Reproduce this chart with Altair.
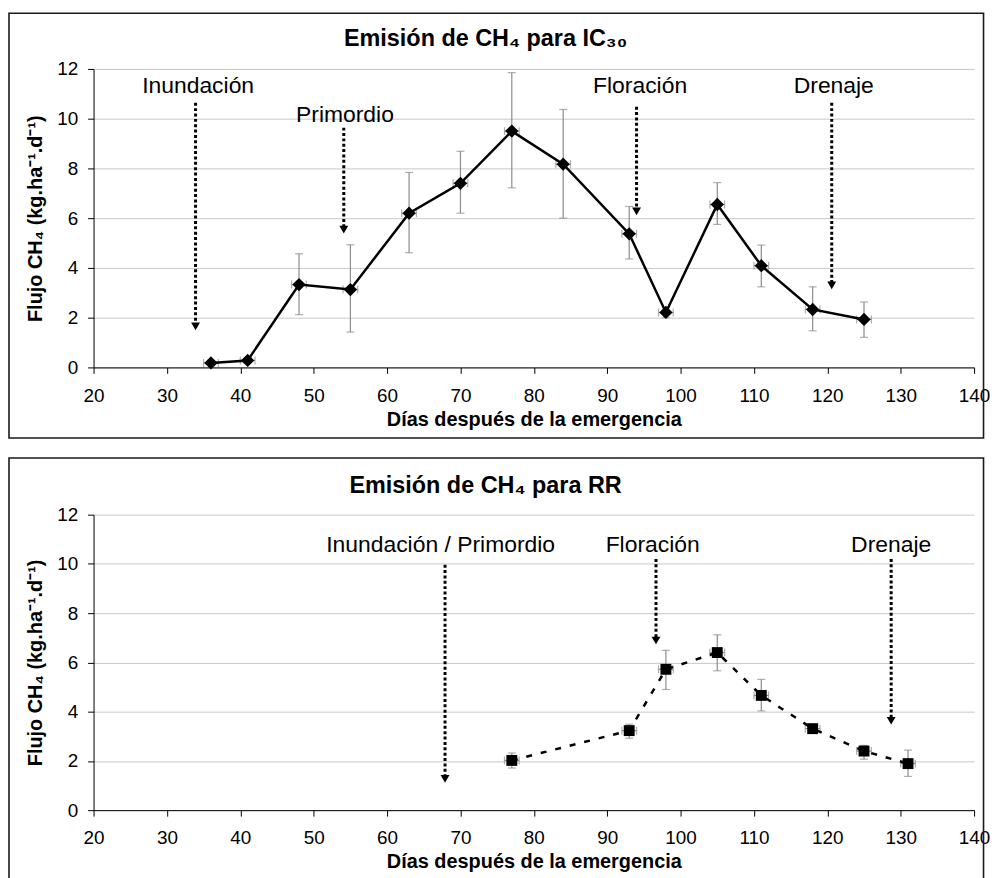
import altair as alt
import pandas as pd

# ---------------- data ----------------
ic_dias = [36, 41, 48, 55, 63, 70, 77, 84, 93, 98, 105, 111, 118, 125]
ic_flujo = [0.18, 0.28, 3.33, 3.13, 6.2, 7.4, 9.5, 8.17, 5.37, 2.21, 6.55, 4.09, 2.33, 1.93]
ic_min = [0.08, 0.18, 2.12, 1.42, 4.61, 6.2, 7.22, 6.0, 4.36, 2.0, 5.75, 3.24, 1.47, 1.21]
ic_max = [0.28, 0.38, 4.57, 4.93, 7.84, 8.69, 11.85, 10.37, 6.47, 2.42, 7.43, 4.92, 3.24, 2.63]
ic_xerr = [1, 1, 1, 1, 1, 1, 1, 1, 1, 1, 1, 1, 1, 1]

rr_dias = [77, 93, 98, 105, 111, 118, 125, 131]
rr_flujo = [2.02, 3.23, 5.72, 6.4, 4.66, 3.31, 2.40, 1.89]
rr_min = [1.71, 2.92, 4.9, 5.66, 4.03, 3.2, 2.07, 1.37]
rr_max = [2.32, 3.49, 6.49, 7.12, 5.31, 3.42, 2.63, 2.44]
rr_xerr = [1, 1, 1, 1, 1, 1, 1, 1]

# annotations (label, label x, label y, arrow x, arrow top, arrow tip)
ic_labels = ["Inundación", "Primordio", "Floración", "Drenaje"]
ic_label_x = [34.25, 54.26, 94.48, 120.88]
ic_label_y = [11.32, 10.16, 11.32, 11.32]
ic_arrow_x = [33.9, 54.1, 94.0, 120.6]
ic_arrow_top = [10.64, 9.64, 10.48, 10.64]
ic_arrow_tip = [1.48, 5.37, 6.1, 3.13]

rr_labels = ["Inundación / Primordio", "Floración", "Drenaje"]
rr_label_x = [67.3, 96.2, 128.7]
rr_label_y = [10.78, 10.78, 10.78]
rr_arrow_x = [67.9, 96.65, 128.7]
rr_arrow_top = [9.97, 10.2, 10.2]
rr_arrow_tip = [1.1, 6.72, 3.46]

x_ticks = [20, 30, 40, 50, 60, 70, 80, 90, 100, 110, 120, 130, 140]
y_ticks = [0, 2, 4, 6, 8, 10, 12]

titles = ["Emisión de CH\u2084 para IC\u2083\u2080", "Emisión de CH\u2084 para RR"]
x_title = "Días después de la emergencia"
y_title = "Flujo CH\u2084 (kg.ha\u207b\u00b9.d\u207b\u00b9)"

FONT = "Liberation Sans"
W = 885
ERR = "#8c8c8c"


def panel(dias, flujo, lo, hi, xerr, labels, lx, ly, ax, atop, atip,
          title, height, shape, size, dash, title_dy, frame_top, frame_bottom,
          xtitle_pad):
    df = pd.DataFrame({"d": dias, "f": flujo, "lo": lo, "hi": hi, "xe": xerr})
    df["xl"] = df["d"] - df["xe"]
    df["xh"] = df["d"] + df["xe"]
    ann = pd.DataFrame({"t": labels, "lx": lx, "ly": ly, "ax": ax,
                        "atop": atop, "atip": atip})
    ann["head"] = ann["atip"] + 0.17
    ann["rend"] = ann["atip"] + 0.3

    xs = alt.Scale(domain=[20, 140], nice=False, zero=False)
    ys = alt.Scale(domain=[0, 12], nice=False)
    xaxis = alt.Axis(values=x_ticks, title=x_title, grid=False, domainColor="#000",
                     tickColor="#000", tickSize=6, labelFontSize=19, labelFont=FONT,
                     labelColor="#000", labelPadding=13, titleFont=FONT,
                     titleFontSize=20, titleFontWeight="bold", titleColor="#000",
                     titlePadding=xtitle_pad, labelFlush=False)
    yaxis = alt.Axis(values=y_ticks, title=y_title, grid=True, gridColor="#c8c8c8",
                     domainColor="#000", tickColor="#000", tickSize=6,
                     labelFontSize=19, labelFont=FONT, labelColor="#000",
                     labelPadding=10, titleFont=FONT, titleFontSize=20,
                     titleFontWeight="bold", titleColor="#000", titlePadding=11)

    base = alt.Chart(df)
    xenc = alt.X("d:Q", scale=xs, axis=xaxis)
    yenc = alt.Y("f:Q", scale=ys, axis=yaxis)

    ebar_v = base.mark_rule(color=ERR, strokeWidth=1.2).encode(
        x=alt.X("d:Q", scale=xs), y=alt.Y("lo:Q", scale=ys), y2="hi:Q")
    cap_lo = base.mark_tick(color=ERR, orient="horizontal", size=8, thickness=1.2).encode(
        x=alt.X("d:Q", scale=xs), y=alt.Y("lo:Q", scale=ys))
    cap_hi = base.mark_tick(color=ERR, orient="horizontal", size=8, thickness=1.2).encode(
        x=alt.X("d:Q", scale=xs), y=alt.Y("hi:Q", scale=ys))
    ebar_h = base.mark_rule(color=ERR, strokeWidth=1.2).encode(
        x=alt.X("xl:Q", scale=xs), x2="xh:Q", y=alt.Y("f:Q", scale=ys))
    cap_l = base.mark_tick(color=ERR, orient="vertical", size=8, thickness=1.2).encode(
        x=alt.X("xl:Q", scale=xs), y=alt.Y("f:Q", scale=ys))
    cap_r = base.mark_tick(color=ERR, orient="vertical", size=8, thickness=1.2).encode(
        x=alt.X("xh:Q", scale=xs), y=alt.Y("f:Q", scale=ys))

    line_kw = dict(color="#000", strokeWidth=2.5)
    if dash:
        line_kw["strokeDash"] = dash
    line = base.mark_line(**line_kw).encode(x=xenc, y=yenc)
    pts = base.mark_point(shape=shape, filled=True, color="#000", size=size,
                          opacity=1).encode(x=alt.X("d:Q", scale=xs),
                                            y=alt.Y("f:Q", scale=ys))

    abase = alt.Chart(ann)
    arrow = abase.mark_rule(color="#000", strokeWidth=3, strokeDash=[3, 2.4]).encode(
        x=alt.X("ax:Q", scale=xs), y=alt.Y("atop:Q", scale=ys), y2="rend:Q")
    head = abase.mark_point(shape="triangle-down", filled=True, color="#000",
                            size=80, opacity=1).encode(
        x=alt.X("ax:Q", scale=xs), y=alt.Y("head:Q", scale=ys))
    txt = abase.mark_text(font=FONT, fontSize=23, color="#000", align="center",
                          baseline="middle").encode(
        x=alt.X("lx:Q", scale=xs), y=alt.Y("ly:Q", scale=ys), text="t:N")

    one = alt.Data(values=[{"k": 1}])
    frame = alt.Chart(one).mark_rect(filled=False, stroke="#1a1a1a",
                                     strokeWidth=1.6).encode(
        x=alt.value(-85), x2=alt.value(W + 9.5),
        y=alt.value(frame_top), y2=alt.value(frame_bottom))
    ttl = alt.Chart(one).mark_text(font=FONT, fontSize=23.5, fontWeight="bold",
                                   color="#000", align="center",
                                   baseline="alphabetic").encode(
        x=alt.value(394), y=alt.value(title_dy), text=alt.value(title))

    return alt.layer(frame, ttl, ebar_v, cap_lo, cap_hi, ebar_h, cap_l, cap_r,
                     line, pts, arrow, head, txt).properties(width=W, height=height)


top = panel(ic_dias, ic_flujo, ic_min, ic_max, ic_xerr, ic_labels, ic_label_x,
            ic_label_y, ic_arrow_x, ic_arrow_top, ic_arrow_tip, titles[0], 300,
            "diamond", 180, None, -23, -56, 371, 4)
bottom = panel(rr_dias, rr_flujo, rr_min, rr_max, rr_xerr, rr_labels, rr_label_x,
               rr_label_y, rr_arrow_x, rr_arrow_top, rr_arrow_tip, titles[1], 297,
               "square", 120, [6, 9], -22, -57, 372, 4)

chart = alt.vconcat(top, bottom, spacing=18).properties(
    padding={"left": 0, "top": 2, "right": 0, "bottom": 0},
    background="white",
).configure_view(stroke=None)

chart.save("out.html", embed_options={"renderer": "svg", "actions": False})
